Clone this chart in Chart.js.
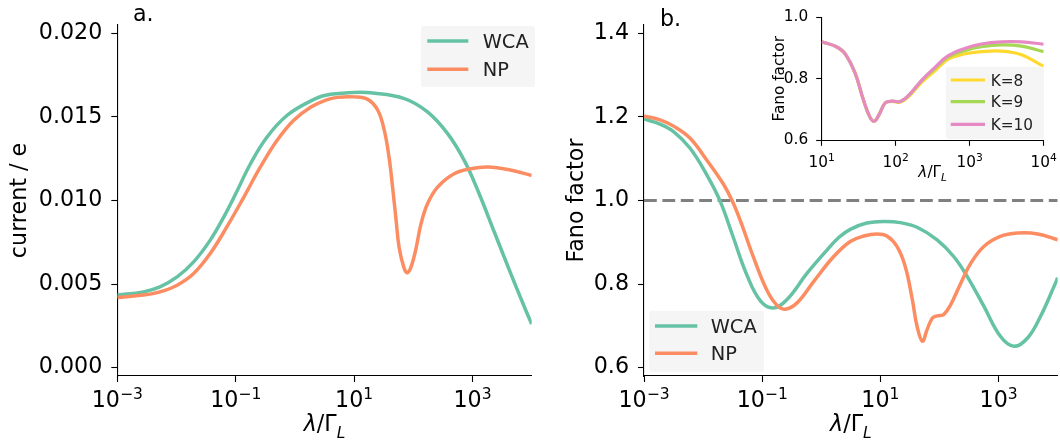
<!DOCTYPE html>
<html>
<head>
<meta charset="utf-8">
<script src="https://cdn.jsdelivr.net/npm/chart.js@4.4.1/dist/chart.umd.min.js"></script>
<style>
    html, body { margin: 0; padding: 0; background: #fff; }
    #wrap { position: relative; width: 1060px; height: 446px; overflow: hidden; }
    canvas { position: absolute; top: 0; }
    #currentChart { left: 0; }
    #fanoChart { left: 530px; }
    #insetChart { left: 740px; }
</style>
</head>
<body>
<div id="wrap">
    <canvas id="currentChart" width="540" height="446"></canvas>
    <canvas id="fanoChart" width="530" height="446"></canvas>
    <canvas id="insetChart" width="320" height="200"></canvas>
</div>
<script>
// curves are sampled at log10(λ/Γ_L)
const currentWcaLog = [-3.0, -2.56, -2.28, -1.99, -1.71, -1.43, -1.20, -1.00, -0.75, -0.47, -0.13, 0.27, 0.52, 1.00, 1.28, 1.85, 2.24, 2.58, 2.86, 3.09, 3.37, 3.66, 3.88, 4.0];
const currentWca = [0.00434, 0.00453, 0.00483, 0.00543, 0.00633, 0.00763, 0.00902, 0.0104, 0.0122, 0.0138, 0.0151, 0.01596, 0.0163, 0.01646, 0.01644, 0.0161, 0.0153, 0.0140, 0.0124, 0.0106, 0.0081, 0.0055, 0.0036, 0.0026];

const currentNpLog = [-3.0, -2.56, -2.28, -1.99, -1.71, -1.43, -1.15, -0.86, -0.58, -0.30, -0.02, 0.27, 0.52, 0.72, 1.00, 1.23, 1.40, 1.51, 1.59, 1.65, 1.71, 1.76, 1.84, 1.90, 1.97, 2.05, 2.13, 2.24, 2.41, 2.69, 2.97, 3.26, 3.60, 4.0];
const currentNp = [0.0042, 0.00434, 0.00453, 0.00493, 0.00563, 0.00683, 0.00842, 0.01022, 0.01202, 0.0136, 0.0148, 0.0156, 0.0160, 0.01617, 0.0162, 0.01605, 0.0154, 0.0142, 0.0126, 0.0108, 0.0088, 0.0072, 0.0060, 0.00568, 0.0061, 0.0072, 0.0086, 0.0098, 0.0108, 0.0116, 0.0119, 0.0120, 0.01185, 0.0115];

const fanoWcaLog = [-3.0, -2.73, -2.5, -2.22, -1.94, -1.71, -1.49, -1.26, -1.03, -0.81, -0.58, -0.24, 0.10, 0.30, 0.49, 0.77, 1.06, 1.34, 1.62, 1.96, 2.24, 2.47, 2.75, 3.03, 3.26, 3.49, 3.71, 3.94, 4.0];
const fanoWca = [1.195, 1.183, 1.165, 1.125, 1.062, 0.998, 0.912, 0.822, 0.760, 0.743, 0.763, 0.826, 0.882, 0.912, 0.931, 0.946, 0.950, 0.947, 0.936, 0.906, 0.866, 0.818, 0.747, 0.675, 0.651, 0.671, 0.723, 0.795, 0.815];

const fanoNpLog = [-3.0, -2.73, -2.5, -2.22, -1.94, -1.66, -1.51, -1.37, -1.15, -0.92, -0.75, -0.61, -0.41, -0.13, 0.21, 0.49, 0.72, 0.94, 1.11, 1.28, 1.42, 1.54, 1.62, 1.71, 1.79, 1.88, 1.96, 2.07, 2.19, 2.36, 2.53, 2.75, 3.03, 3.32, 3.66, 4.0];
const fanoNp = [1.202, 1.193, 1.178, 1.149, 1.097, 1.040, 1.000, 0.952, 0.865, 0.785, 0.749, 0.740, 0.755, 0.806, 0.866, 0.902, 0.915, 0.920, 0.915, 0.890, 0.842, 0.763, 0.699, 0.663, 0.691, 0.719, 0.724, 0.727, 0.751, 0.802, 0.850, 0.890, 0.914, 0.922, 0.920, 0.906];

// inset: NP Fano factor for different truncations K
const insetLog = [1.0, 1.18, 1.31, 1.45, 1.56, 1.65, 1.71, 1.77, 1.86, 1.95, 2.06, 2.17, 2.35, 2.53, 2.71, 2.94, 3.16, 3.43, 3.70, 4.0];
const fanoK8 = [0.920, 0.906, 0.883, 0.819, 0.734, 0.676, 0.662, 0.681, 0.722, 0.726, 0.724, 0.741, 0.788, 0.826, 0.864, 0.881, 0.888, 0.890, 0.878, 0.840];
const fanoK9 = [0.920, 0.906, 0.883, 0.819, 0.734, 0.676, 0.662, 0.681, 0.722, 0.727, 0.726, 0.744, 0.793, 0.834, 0.871, 0.892, 0.904, 0.910, 0.906, 0.888];
const fanoK10 = [0.920, 0.906, 0.883, 0.819, 0.734, 0.676, 0.662, 0.681, 0.722, 0.727, 0.726, 0.745, 0.795, 0.837, 0.875, 0.899, 0.913, 0.920, 0.920, 0.912];

const poissonLevel = 1.0;

// tick positions
const lamTicks = [1e-3, 1e-1, 1e1, 1e3];
const insetLamTicks = [1e1, 1e2, 1e3, 1e4];
const currentTicks = [0.000, 0.005, 0.010, 0.015, 0.020];
const fanoTicks = [0.6, 0.8, 1.0, 1.2, 1.4];
const insetFanoTicks = [0.6, 0.8, 1.0];

const WCA_COLOR = "#66c2a5";
const NP_COLOR = "#fc8d62";
const FONT = "'DejaVu Sans', sans-serif";

Chart.defaults.font.family = FONT;
Chart.defaults.color = "#000";

function toPoints(logs, values) {
    return logs.map((e, i) => ({ x: Math.pow(10, e), y: values[i] }));
}

function curve(label, logs, values, color, width, order) {
    return {
        label: label,
        data: toPoints(logs, values),
        borderColor: color,
        backgroundColor: color,
        borderWidth: width,
        pointRadius: 0,
        tension: 0.4,
        fill: false,
        order: order
    };
}

function fontOf(run) {
    return (run.italic ? "italic " : "") + run.size + "px " + FONT;
}

// draws a row of text pieces (base, superscripts, subscripts)
function drawRuns(ctx, runs, x, y) {
    let total = 0;
    runs.forEach(r => {
        ctx.font = fontOf(r);
        r.w = ctx.measureText(r.text).width;
        total += r.w;
    });
    let cx = x - total / 2;
    ctx.textAlign = "left";
    runs.forEach(r => {
        ctx.font = fontOf(r);
        ctx.fillText(r.text, cx, y + (r.dy || 0));
        cx += r.w;
    });
}

const figureText = {
    id: "figureText",
    afterDraw(chart, args, opts) {
        const ctx = chart.ctx;
        const xScale = chart.scales.x;
        const area = chart.chartArea;
        const s = opts.size;

        ctx.save();
        ctx.fillStyle = "#000";
        ctx.textBaseline = "alphabetic";

        // x ticks as powers of ten
        xScale.ticks.forEach(t => {
            const px = xScale.getPixelForValue(t.value);
            const exp = Math.round(Math.log10(t.value));
            const expText = exp < 0 ? "\u2212" + (-exp) : String(exp);
            drawRuns(ctx, [
                { text: "10", size: s },
                { text: expText, size: s * 0.7, dy: -s * opts.supRaise }
            ], px, area.bottom + opts.tickBase);
        });

        // x axis title λ/Γ_L
        drawRuns(ctx, [
            { text: "\u03bb", size: s, italic: true },
            { text: "/\u0393", size: s },
            { text: "L", size: s * 0.7, italic: true, dy: s * 0.3 }
        ], (area.left + area.right) / 2, area.bottom + opts.titleBase);

        // y axis title
        ctx.save();
        ctx.translate(opts.yTitleX, (area.top + area.bottom) / 2);
        ctx.rotate(-Math.PI / 2);
        ctx.textAlign = "center";
        ctx.font = s + "px " + FONT;
        ctx.fillText(opts.yTitle, 0, 0);
        ctx.restore();

        // panel tag
        if (opts.tag) {
            ctx.textAlign = "left";
            ctx.font = opts.tag.size + "px " + FONT;
            ctx.fillText(opts.tag.text, opts.tag.x, opts.tag.y);
        }

        // legend
        const lg = opts.legend;
        ctx.fillStyle = "#f5f5f5";
        ctx.beginPath();
        ctx.roundRect(lg.x, lg.y, lg.w, lg.h, 3);
        ctx.fill();
        lg.entries.forEach((name, i) => {
            const ds = chart.data.datasets.find(d => d.label === name);
            const rowY = lg.rows[i];
            ctx.strokeStyle = ds.borderColor;
            ctx.lineWidth = lg.lineWidth;
            ctx.beginPath();
            ctx.moveTo(lg.lineX0, rowY);
            ctx.lineTo(lg.lineX1, rowY);
            ctx.stroke();
            ctx.fillStyle = "#222";
            ctx.textAlign = "left";
            ctx.font = lg.size + "px " + FONT;
            ctx.fillText(name, lg.textX, rowY + lg.size * 0.36);
        });

        ctx.restore();
    }
};

function axes(yMin, yMax, yTicks, yDigits, xMin, xMax, xTicks, yWidth, xHeight, fontSize, tickLen, pad) {
    const grid = { drawOnChartArea: false, drawTicks: true, tickLength: tickLen, tickWidth: 1.1, tickColor: "#000" };
    const border = { display: true, color: "#000", width: 1.1 };
    return {
        x: {
            type: "logarithmic",
            min: xMin,
            max: xMax,
            bounds: "data",
            grid: grid,
            border: border,
            ticks: { display: false },
            afterBuildTicks: scale => { scale.ticks = xTicks.map(v => ({ value: v })); },
            afterFit: scale => { scale.height = xHeight; }
        },
        y: {
            type: "linear",
            min: yMin,
            max: yMax,
            bounds: "data",
            grid: grid,
            border: border,
            ticks: {
                font: { size: fontSize },
                color: "#000",
                padding: pad,
                callback: v => Number(v).toFixed(yDigits)
            },
            afterBuildTicks: scale => { scale.ticks = yTicks.map(v => ({ value: v })); },
            afterFit: scale => { scale.width = yWidth; }
        }
    };
}

const baseOptions = {
    responsive: false,
    animation: false,
    events: [],
    plugins: { legend: { display: false }, tooltip: { enabled: false } }
};

// a. current
new Chart(document.getElementById("currentChart"), {
    type: "line",
    data: {
        datasets: [
            curve("WCA", currentWcaLog, currentWca, WCA_COLOR, 3.5, 1),
            curve("NP", currentNpLog, currentNp, NP_COLOR, 3.5, 0)
        ]
    },
    options: {
        ...baseOptions,
        layout: { padding: { top: 25, right: 8.3, left: 0, bottom: 0 } },
        scales: axes(-0.0005, 0.0205, currentTicks, 3, 1e-3, 1e4, lamTicks, 117.3, 70, 22.2, 6, 9),
        plugins: {
            ...baseOptions.plugins,
            figureText: {
                size: 22.2, supRaise: 0.38, tickBase: 31.3, titleBase: 55,
                yTitle: "current / e", yTitleX: 26,
                tag: { text: "a.", x: 133, y: 20.5, size: 22.2 },
                legend: {
                    x: 421, y: 26, w: 114, h: 61, lineX0: 427.3, lineX1: 468.3, textX: 482.7,
                    rows: [41, 69.3], size: 19.4, lineWidth: 3.5, entries: ["WCA", "NP"]
                }
            }
        }
    },
    plugins: [figureText]
});

// b. Fano factor
new Chart(document.getElementById("fanoChart"), {
    type: "line",
    data: {
        datasets: [
            curve("WCA", fanoWcaLog, fanoWca, WCA_COLOR, 3.5, 1),
            curve("NP", fanoNpLog, fanoNp, NP_COLOR, 3.5, 0),
            {
                label: "",
                data: [{ x: 1e-3, y: poissonLevel }, { x: 1e4, y: poissonLevel }],
                borderColor: "#808080",
                borderWidth: 2.8,
                borderDash: [12.8, 5.6],
                pointRadius: 0,
                order: 2
            }
        ]
    },
    options: {
        ...baseOptions,
        layout: { padding: { top: 25, right: 2.3, left: 0, bottom: 0 } },
        scales: axes(0.58, 1.42, fanoTicks, 1, 1e-3, 1e4, lamTicks, 114, 70, 22.2, 6, 9),
        plugins: {
            ...baseOptions.plugins,
            figureText: {
                size: 22.2, supRaise: 0.38, tickBase: 31.3, titleBase: 55,
                yTitle: "Fano factor", yTitleX: 52.7,
                tag: { text: "b.", x: 130, y: 26, size: 22.2 },
                legend: {
                    x: 119.3, y: 310.7, w: 114.7, h: 61, lineX0: 125, lineX1: 167.3, textX: 180.7,
                    rows: [326, 353.3], size: 19.4, lineWidth: 3.5, entries: ["WCA", "NP"]
                }
            }
        }
    },
    plugins: [figureText]
});

// inset: truncation K
new Chart(document.getElementById("insetChart"), {
    type: "line",
    data: {
        datasets: [
            curve("K=8", insetLog, fanoK8, "#ffd92f", 3.2, 2),
            curve("K=9", insetLog, fanoK9, "#a6d854", 3.2, 1),
            curve("K=10", insetLog, fanoK10, "#e78ac3", 3.2, 0)
        ]
    },
    options: {
        ...baseOptions,
        layout: { padding: { top: 14.7, right: 16.3, left: 0, bottom: 0 } },
        scales: axes(0.6, 1.0, insetFanoTicks, 1, 1e1, 1e4, insetLamTicks, 81.7, 59.7, 15.3, 5.5, 8),
        plugins: {
            ...baseOptions.plugins,
            figureText: {
                size: 15.3, supRaise: 0.38, tickBase: 26.2, titleBase: 36.5,
                yTitle: "Fano factor", yTitleX: 44,
                legend: {
                    x: 206, y: 66.7, w: 98, h: 72.3, lineX0: 210.7, lineX1: 245, textX: 250.7,
                    rows: [80, 101.7, 124.3], size: 15.3, lineWidth: 3.2, entries: ["K=8", "K=9", "K=10"]
                }
            }
        }
    },
    plugins: [figureText]
});
</script>
</body>
</html>
